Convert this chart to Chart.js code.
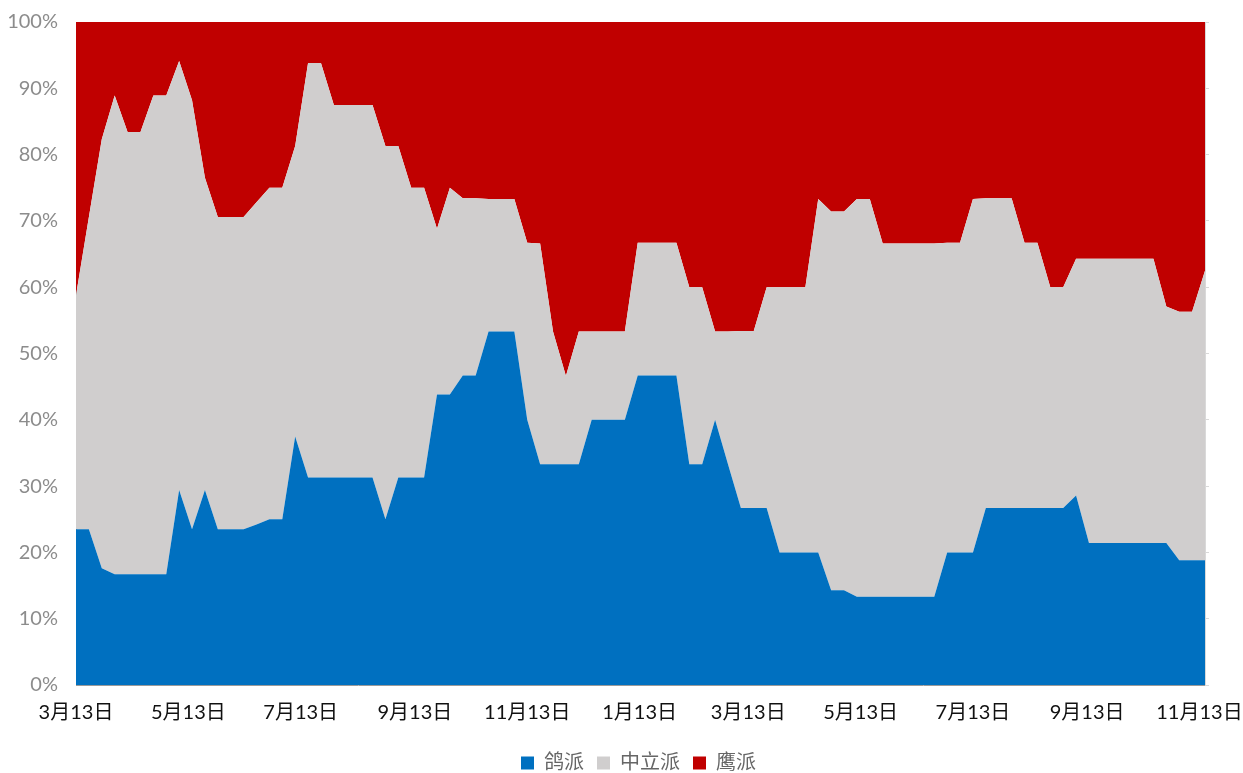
<!DOCTYPE html>
<html>
<head>
<meta charset="utf-8">
<script src="https://cdn.jsdelivr.net/npm/chart.js@4.4.1/dist/chart.umd.min.js"></script>
<style>
  html, body { margin: 0; padding: 0; background: #fff; }
</style>
</head>
<body>
<canvas id="stance" width="1243" height="773"></canvas>
<script>
// Reading dates, as day offsets from the first 3月13日 (weekly, one short gap at year end)
const days = [
  0, 7, 14, 21, 28, 35, 42, 49, 56, 63, 70, 77, 84, 91,
  98, 105, 112, 119, 126, 133, 140, 147, 154, 161, 168, 175, 182, 189,
  196, 203, 210, 217, 224, 231, 238, 245, 252, 259, 266, 273, 280, 287,
  298, 305, 312, 319, 326, 333, 340, 347, 354, 361, 368, 375, 382, 389,
  396, 403, 410, 417, 424, 431, 438, 445, 452, 459, 466, 473, 480, 487,
  494, 501, 508, 515, 522, 529, 536, 543, 550, 557, 564, 571, 578, 585,
  592, 599, 606, 613,
];

// Share of each camp, in percent
const dove = [
  23.5, 23.5, 17.6, 16.7, 16.7, 16.7, 16.7, 16.7, 29.4, 23.5, 29.4, 23.5, 23.5, 23.5,
  24.2, 25.0, 25.0, 37.5, 31.3, 31.3, 31.3, 31.3, 31.3, 31.3, 25.0, 31.3, 31.3, 31.3,
  43.8, 43.8, 46.7, 46.7, 53.3, 53.3, 53.3, 40.0, 33.3, 33.3, 33.3, 33.3, 40.0, 40.0,
  40.0, 46.7, 46.7, 46.7, 46.7, 33.3, 33.3, 40.0, 33.3, 26.7, 26.7, 26.7, 20.0, 20.0,
  20.0, 20.0, 14.3, 14.3, 13.3, 13.3, 13.3, 13.3, 13.3, 13.3, 13.3, 20.0, 20.0, 20.0,
  26.7, 26.7, 26.7, 26.7, 26.7, 26.7, 26.7, 28.6, 21.4, 21.4, 21.4, 21.4, 21.4, 21.4,
  21.4, 18.8, 18.8, 18.8,
];
const neutral = [
  35.3, 47.1, 64.7, 72.2, 66.7, 66.7, 72.2, 72.2, 64.7, 64.7, 47.1, 47.1, 47.1, 47.1,
  48.6, 50.0, 50.0, 43.8, 62.5, 62.5, 56.2, 56.2, 56.2, 56.2, 56.3, 50.0, 43.7, 43.7,
  25.0, 31.2, 26.7, 26.7, 20.0, 20.0, 20.0, 26.7, 33.3, 20.0, 13.3, 20.0, 13.3, 13.3,
  13.3, 20.0, 20.0, 20.0, 20.0, 26.7, 26.7, 13.3, 20.0, 26.7, 26.7, 33.3, 40.0, 40.0,
  40.0, 53.3, 57.1, 57.1, 60.0, 60.0, 53.3, 53.3, 53.3, 53.3, 53.3, 46.7, 46.7, 53.3,
  46.7, 46.7, 46.7, 40.0, 40.0, 33.3, 33.3, 35.7, 42.9, 42.9, 42.9, 42.9, 42.9, 42.9,
  35.7, 37.5, 37.5, 43.7,
];
const hawk = [
  41.2, 29.4, 17.7, 11.1, 16.7, 16.7, 11.1, 11.1, 5.9, 11.8, 23.5, 29.4, 29.4, 29.4,
  27.2, 25.0, 25.0, 18.7, 6.2, 6.2, 12.5, 12.5, 12.5, 12.5, 18.7, 18.7, 25.0, 25.0,
  31.2, 25.0, 26.7, 26.7, 26.7, 26.7, 26.7, 33.3, 33.4, 46.7, 53.4, 46.7, 46.7, 46.7,
  46.7, 33.3, 33.3, 33.3, 33.3, 40.0, 40.0, 46.7, 46.7, 46.7, 46.7, 40.0, 40.0, 40.0,
  40.0, 26.7, 28.6, 28.6, 26.7, 26.7, 33.4, 33.4, 33.4, 33.4, 33.4, 33.3, 33.3, 26.7,
  26.7, 26.7, 26.7, 33.3, 33.3, 40.0, 40.0, 35.7, 35.7, 35.7, 35.7, 35.7, 35.7, 35.7,
  42.9, 43.7, 43.7, 37.5,
];

// Date axis labels, every two months
const tickDays = [0, 61, 122, 184, 245, 306, 365, 426, 487, 549, 610];
const tickLabels = ['3月13日', '5月13日', '7月13日', '9月13日', '11月13日', '1月13日',
  '3月13日', '5月13日', '7月13日', '9月13日', '11月13日'];

const seriesNames = ['鸽派', '中立派', '鹰派'];
const seriesColors = ['#0070C0', '#D0CECE', '#C00000'];

const FONT = "Lato, 'Noto Sans CJK SC', sans-serif";

const toPoints = vals => vals.map((v, i) => ({ x: days[i], y: v }));

// push the legend a little lower/right than Chart.js would put it
const legendOffset = {
  id: 'legendOffset',
  afterLayout(chart) {
    const lg = chart.legend;
    lg.top += 10; lg.bottom += 10;
    lg.left += 17; lg.right += 17;
  },
};

const zeroPadding = scale => {
  scale.paddingTop = 0; scale.paddingBottom = 0;
  scale.paddingLeft = 0; scale.paddingRight = 0;
};

new Chart(document.getElementById('stance'), {
  type: 'line',
  data: {
    datasets: [dove, neutral, hawk].map((vals, k) => ({
      label: seriesNames[k],
      data: toPoints(vals),
      backgroundColor: seriesColors[k],
      borderColor: seriesColors[k],
      borderWidth: 0,
      pointRadius: 0,
      tension: 0,
      fill: k === 0 ? 'origin' : '-1',
    })),
  },
  options: {
    responsive: false,
    animation: false,
    layout: { padding: { top: 22, right: 0, bottom: 0, left: 0 } },
    scales: {
      x: {
        type: 'linear',
        min: 0,
        max: 613,
        afterBuildTicks: scale => { scale.ticks = tickDays.map(v => ({ value: v })); },
        afterFit: scale => { scale.height = 45; zeroPadding(scale); },
        grid: { display: false, drawTicks: false },
        border: { color: '#9a9a9a', width: 1 },
        ticks: {
          autoSkip: false,
          maxRotation: 0,
          padding: 16,
          color: '#111111',
          font: { family: FONT, size: 20 },
          callback: v => tickLabels[tickDays.indexOf(v)],
        },
      },
      y: {
        stacked: true,
        min: 0,
        max: 100,
        z: 1,
        afterFit: scale => { scale.width = 76; zeroPadding(scale); },
        grid: {
          drawTicks: false,
          color: c => (c.tick && c.tick.value === 100 ? '#d9d9d9' : 'rgba(0,0,0,0)'),
        },
        border: { color: '#9a9a9a', width: 1 },
        ticks: {
          stepSize: 10,
          padding: 18,
          color: '#8c8c8c',
          font: { family: FONT, size: 20 },
          callback: v => v + '%',
        },
      },
      yRight: {
        position: 'right',
        min: 0,
        max: 100,
        afterFit: scale => { scale.width = 38; zeroPadding(scale); },
        grid: { drawOnChartArea: false, drawTicks: true, tickLength: 4, color: '#d9d9d9' },
        border: { color: '#d9d9d9', width: 1 },
        ticks: { stepSize: 10, display: false },
      },
    },
    plugins: {
      legend: {
        position: 'bottom',
        labels: {
          boxWidth: 13,
          boxHeight: 13,
          padding: 13,
          color: '#666666',
          font: { family: FONT, size: 20 },
        },
      },
      tooltip: { enabled: false },
    },
  },
  plugins: [legendOffset],
});
</script>
</body>
</html>
